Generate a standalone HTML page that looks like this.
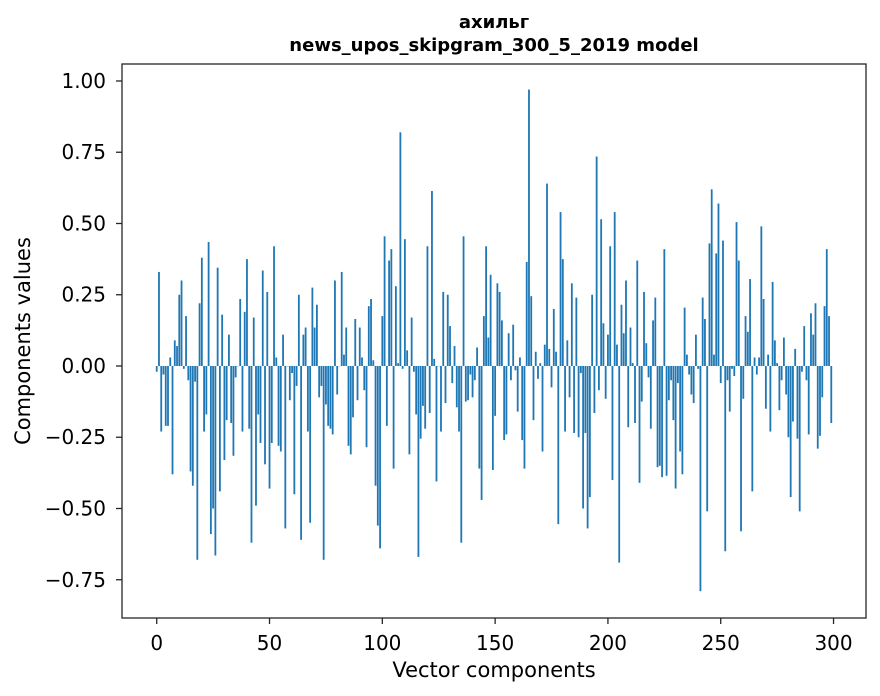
<!DOCTYPE html>
<html><head><meta charset="utf-8">
<style>
html,body{margin:0;padding:0;background:#fff;}
svg{display:block;font-family:"DejaVu Sans","Liberation Sans",sans-serif;}
</style></head>
<body>
<svg id="chart" width="880" height="696" viewBox="0 0 880 696" xmlns="http://www.w3.org/2000/svg">
<rect x="0" y="0" width="880" height="696" fill="#fff"/>
<text x="494" y="28" text-anchor="middle" font-size="18" font-weight="bold">ахильг</text>
<text x="494" y="51" text-anchor="middle" font-size="18" font-weight="bold">news_upos_skipgram_300_5_2019 model</text>
<g id="bars"></g>
<g id="axes"></g>
<text x="494" y="677" text-anchor="middle" font-size="21">Vector components</text>
<text x="0" y="0" transform="translate(30,341) rotate(-90)" text-anchor="middle" font-size="21">Components values</text>
</svg>
<script>
const values = [
-0.02,0.33,-0.23,-0.03,-0.21,-0.21,0.03,-0.38,0.09,0.07,
0.25,0.30,-0.01,0.175,-0.05,-0.37,-0.42,-0.055,-0.68,0.22,
0.38,-0.23,-0.17,0.435,-0.59,-0.50,-0.665,0.345,-0.44,0.18,
-0.33,-0.19,0.11,-0.20,-0.315,-0.04,0.0,0.235,-0.23,0.19,
0.375,-0.22,-0.62,0.17,-0.49,-0.17,-0.27,0.335,-0.345,0.26,
-0.43,-0.27,0.42,0.03,-0.28,-0.30,0.11,-0.57,0.0,-0.12,
-0.025,-0.45,-0.07,0.25,-0.61,0.11,0.135,-0.23,-0.55,0.275,
0.135,0.215,-0.11,-0.07,-0.68,-0.135,-0.21,-0.22,-0.24,0.30,
-0.10,0.0,0.33,0.04,0.135,-0.28,-0.31,-0.18,0.165,-0.12,
0.135,0.03,-0.085,-0.285,0.21,0.235,0.02,-0.42,-0.56,-0.64,
0.175,0.455,-0.21,0.37,0.41,-0.36,0.28,0.01,0.82,-0.01,
0.445,0.055,-0.31,0.17,-0.02,-0.17,-0.67,-0.255,-0.14,-0.22,
0.42,-0.165,0.614,0.025,-0.405,0.0,-0.23,0.26,-0.13,0.25,
0.14,-0.06,0.07,-0.145,-0.23,-0.62,0.455,-0.125,-0.12,-0.03,
-0.11,-0.05,0.065,-0.36,-0.47,0.175,0.42,0.10,0.32,-0.365,
-0.175,0.29,0.26,0.16,-0.26,-0.24,0.115,-0.05,0.145,-0.015,
-0.16,0.03,-0.26,-0.36,0.365,0.97,0.245,-0.19,0.05,-0.045,
0.01,-0.30,0.075,0.64,0.06,-0.075,0.20,0.05,-0.555,0.54,
0.375,-0.23,0.09,-0.11,0.29,-0.235,0.24,-0.25,-0.025,-0.50,
-0.235,-0.57,-0.46,0.25,-0.165,0.735,-0.085,0.515,0.15,-0.115,
0.11,0.42,-0.40,0.54,0.075,-0.69,0.215,0.115,0.30,-0.215,
0.135,0.01,-0.20,0.37,-0.41,-0.125,0.26,0.08,-0.04,-0.22,
0.16,0.24,-0.355,-0.35,-0.39,0.41,-0.385,-0.12,-0.05,-0.19,
-0.43,-0.06,-0.30,-0.38,0.205,0.04,-0.03,-0.10,-0.13,0.11,
-0.01,-0.79,0.24,0.165,-0.51,0.43,0.62,0.04,0.395,0.57,
-0.06,0.44,-0.65,-0.05,-0.16,-0.01,-0.035,0.505,0.37,-0.58,
-0.115,0.175,0.12,0.305,-0.44,0.03,-0.03,0.03,0.49,0.235,
-0.15,0.04,-0.23,0.295,0.09,0.01,-0.155,-0.05,0.10,-0.10,
-0.25,-0.46,-0.195,0.06,-0.255,-0.51,-0.02,0.14,-0.05,-0.24,
0.185,0.11,0.22,-0.29,-0.245,-0.11,0.21,0.41,0.175,-0.20
];
const xTicks = [0,50,100,150,200,250,300];
const yTicks = [-0.75,-0.50,-0.25,0.00,0.25,0.50,0.75,1.00];
const yTickLabels = ["\u22120.75","\u22120.50","\u22120.25","0.00","0.25","0.50","0.75","1.00"];

const NS = "http://www.w3.org/2000/svg";
const L = 122, R = 866, T = 64, B = 618;
const xMin = -15.39, xMax = 314.39, yMin = -0.8842, yMax = 1.0596;
function xs(v){ return L + (v - xMin) / (xMax - xMin) * (R - L); }
function ys(v){ return B - (v - yMin) / (yMax - yMin) * (B - T); }

const barsG = document.getElementById('bars');
values.forEach((v, i) => {
  const r = document.createElementNS(NS, 'rect');
  const x0 = xs(i - 0.4), x1 = xs(i + 0.4);
  const y0 = ys(Math.max(v, 0)), y1 = ys(Math.min(v, 0));
  r.setAttribute('x', x0);
  r.setAttribute('y', y0);
  r.setAttribute('width', x1 - x0);
  r.setAttribute('height', Math.max(y1 - y0, 0.3));
  r.setAttribute('fill', '#1f77b4');
  
  
  barsG.appendChild(r);
});

const axG = document.getElementById('axes');
const frame = document.createElementNS(NS, 'rect');
frame.setAttribute('x', L); frame.setAttribute('y', T);
frame.setAttribute('width', R - L); frame.setAttribute('height', B - T);
frame.setAttribute('fill', 'none'); frame.setAttribute('stroke', '#262626'); frame.setAttribute('stroke-width', '1.3');


axG.appendChild(frame);

xTicks.forEach(t => {
  const x = xs(t);
  const ln = document.createElementNS(NS, 'line');
  ln.setAttribute('x1', x); ln.setAttribute('x2', x); ln.setAttribute('y1', B); ln.setAttribute('y2', B + 6);
  ln.setAttribute('stroke', '#262626'); ln.setAttribute('stroke-width', '1.3');
  
  
  axG.appendChild(ln);
  const tx = document.createElementNS(NS, 'text');
  tx.setAttribute('x', x); tx.setAttribute('y', B + 32);
  tx.setAttribute('text-anchor', 'middle'); tx.setAttribute('font-size', '20');
  tx.textContent = String(t);
  
  
  axG.appendChild(tx);
});
yTicks.forEach((t, k) => {
  const y = ys(t);
  const ln = document.createElementNS(NS, 'line');
  ln.setAttribute('x1', L - 6); ln.setAttribute('x2', L); ln.setAttribute('y1', y); ln.setAttribute('y2', y);
  ln.setAttribute('stroke', '#262626'); ln.setAttribute('stroke-width', '1.3');
  
  
  axG.appendChild(ln);
  const tx = document.createElementNS(NS, 'text');
  tx.setAttribute('x', 106); tx.setAttribute('y', y + 7);
  tx.setAttribute('text-anchor', 'end'); tx.setAttribute('font-size', '20');
  tx.textContent = yTickLabels[k];
  
  
  axG.appendChild(tx);
});
</script>
</body></html>
